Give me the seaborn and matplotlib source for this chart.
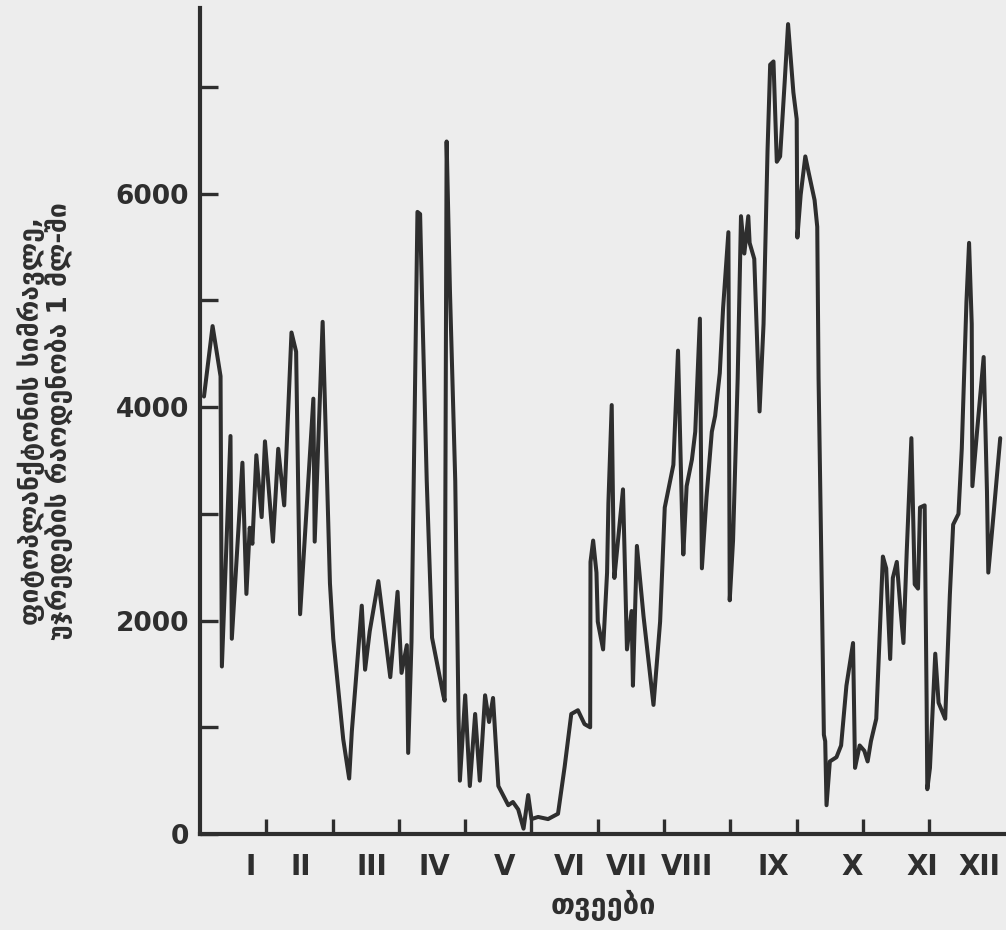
import matplotlib
matplotlib.use("Agg")
import matplotlib.pyplot as plt
import seaborn as sns
import pandas as pd

# month position (0 = start of January) and phytoplankton abundance
month_pos = [0.06, 0.19, 0.31, 0.33, 0.46, 0.48, 0.64, 0.70, 0.75, 0.79,
             0.85, 0.93, 0.98, 1.10, 1.18, 1.27, 1.38, 1.45, 1.51, 1.71,
             1.73, 1.85, 1.96, 2.01, 2.16, 2.25, 2.29, 2.44, 2.49, 2.56,
             2.69, 2.87, 2.98, 3.04, 3.12, 3.14, 3.19, 3.28, 3.32, 3.35,
             3.42, 3.50, 3.67, 3.69, 3.72, 3.77, 3.85, 3.90, 3.92, 4.00,
             4.07, 4.15, 4.22, 4.30, 4.36, 4.42, 4.50, 4.57, 4.65, 4.72,
             4.80, 4.88, 4.95, 5.00, 5.10, 5.25, 5.40, 5.50, 5.60, 5.70,
             5.80, 5.885, 5.89, 5.93, 5.98, 6.00, 6.08, 6.14, 6.16, 6.21,
             6.24, 6.25, 6.38, 6.44, 6.51, 6.53, 6.59, 6.69, 6.84, 6.94,
             7.01, 7.14, 7.21, 7.27, 7.29, 7.34, 7.42, 7.47, 7.54, 7.57,
             7.64, 7.72, 7.77, 7.84, 7.89, 7.97, 7.99, 8.04, 8.11, 8.16,
             8.21, 8.27, 8.29, 8.36, 8.44, 8.50, 8.56, 8.60, 8.65, 8.70,
             8.75, 8.82, 8.87, 8.95, 9.00, 9.01, 9.06, 9.13, 9.18, 9.27,
             9.31, 9.33, 9.38, 9.41, 9.43, 9.45, 9.50, 9.60, 9.67, 9.75,
             9.85, 9.88, 9.95, 10.02, 10.07, 10.12, 10.20, 10.30, 10.35, 10.41,
             10.45, 10.51, 10.56, 10.61, 10.66, 10.73, 10.78, 10.83, 10.86, 10.93,
             10.96, 10.97, 11.01, 11.09, 11.14, 11.24, 11.31, 11.36, 11.44, 11.49,
             11.56, 11.60, 11.64, 11.65, 11.72, 11.82, 11.87, 11.89, 11.97, 12.07]
abundance = [4100, 4760, 4290, 1570, 3730, 1830, 3480, 2250, 2870, 2720,
             3550, 2970, 3680, 2740, 3610, 3080, 4700, 4520, 2060, 4080,
             2740, 4800, 2350, 1830, 890, 520, 960, 2140, 1540, 1900,
             2370, 1470, 2270, 1510, 1770, 760, 1800, 5830, 5810, 5000,
             3310, 1840, 1300, 1250, 6490, 5090, 3310, 1080, 500, 1300,
             450, 1125, 500, 1300, 1050, 1275, 450, 365, 270, 300,
             230, 50, 365, 140, 160, 140, 190, 630, 1125, 1160,
             1030, 1000, 2550, 2750, 2450, 1990, 1730, 2450, 3100, 4020,
             2600, 2400, 3230, 1730, 2090, 1390, 2700, 2040, 1210, 1990,
             3060, 3460, 4530, 3000, 2620, 3260, 3510, 3770, 4830, 2490,
             3160, 3770, 3920, 4320, 4930, 5640, 2190, 2750, 4270, 5790,
             5440, 5790, 5540, 5390, 3960, 4780, 6400, 7210, 7240, 6300,
             6350, 7060, 7590, 6950, 6700, 5590, 5990, 6350, 6200, 5940,
             5690, 4270, 2240, 930, 870, 270, 680, 720, 830, 1390,
             1790, 620, 830, 780, 680, 870, 1080, 2600, 2490, 1640,
             2400, 2550, 2150, 1790, 2650, 3710, 2340, 2300, 3060, 3080,
             1230, 420, 620, 1690, 1230, 1080, 2240, 2900, 3000, 3610,
             4980, 5540, 4780, 3260, 3770, 4470, 3210, 2450, 3000, 3710]

month_names = ["I", "II", "III", "IV", "V", "VI", "VII", "VIII", "IX", "X", "XI", "XII"]
month_label_pos = [0.76, 1.52, 2.59, 3.54, 4.60, 5.58, 6.44, 7.34, 8.64, 9.83, 10.89, 11.75]
month_ticks = [1, 2, 3, 4, 5, 6, 7, 8, 9, 10, 11]
y_ticks = [0, 1000, 2000, 3000, 4000, 5000, 6000, 7000]
y_tick_labels = ["0", "", "2000", "", "4000", "", "6000", ""]

y_label = "ფიტოპლანქტონის სიმრავლე,\nუჯრედების რაოდენობა 1 მლ-ში"
x_label = "თვეები"

df = pd.DataFrame({"month": month_pos, "abundance": abundance})

sns.set_style("ticks")
plt.rcParams["font.family"] = ["DejaVu Sans"]
plt.rcParams["font.weight"] = "bold"

ink = "#2e2e2e"
paper = "#ededed"

fig = plt.figure(figsize=(10.06, 9.30), dpi=100, facecolor=paper)
ax = fig.add_axes([0.1988, 0.1032, 0.8012, 0.8882])
ax.set_facecolor(paper)

sns.lineplot(data=df, x="month", y="abundance", sort=False, color=ink,
             linewidth=2.9, ax=ax)

ax.set_xlim(0, 12.157)
ax.set_ylim(0, 7741)

for side in ["top", "right"]:
    ax.spines[side].set_visible(False)
for side in ["left", "bottom"]:
    ax.spines[side].set_linewidth(3.0)
    ax.spines[side].set_color(ink)

# month boundaries as inward ticks, numerals as minor tick labels
ax.set_xticks(month_ticks)
ax.set_xticklabels([])
ax.set_xticks(month_label_pos, minor=True)
ax.set_xticklabels(month_names, minor=True, fontsize=20, fontweight="bold", color=ink)
ax.tick_params(axis="x", which="major", direction="in", length=11, width=2.4, color=ink)
ax.tick_params(axis="x", which="minor", length=0, pad=14)

ax.set_yticks(y_ticks)
ax.set_yticklabels(y_tick_labels, fontsize=19, fontweight="bold", color=ink)
ax.tick_params(axis="y", direction="in", length=13, width=2.4, color=ink, pad=8)

ax.set_xlabel(x_label, fontsize=21, fontweight="bold", color=ink, labelpad=6)
ax.set_ylabel(y_label, fontsize=19, fontweight="bold", color=ink,
              labelpad=30, linespacing=1.05)

plt.savefig("out.png", dpi=100, facecolor=paper)
plt.close()
